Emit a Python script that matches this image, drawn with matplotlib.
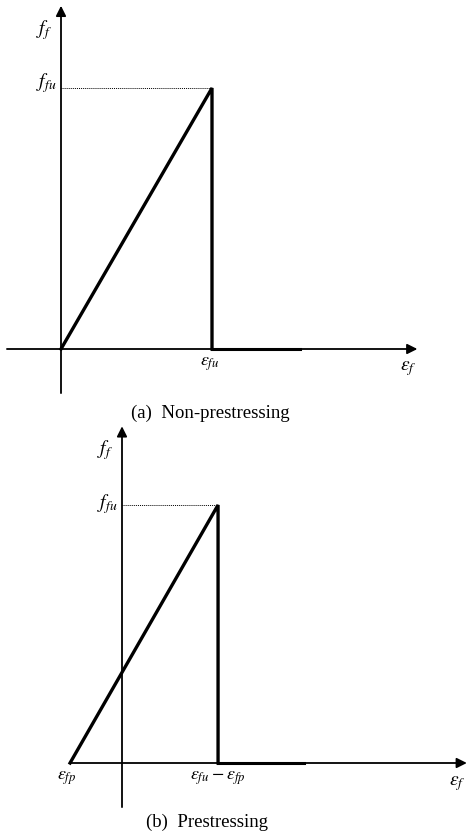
import matplotlib
matplotlib.use("Agg")
import matplotlib.pyplot as plt

plt.rcParams["mathtext.fontset"] = "stix"
plt.rcParams["font.family"] = ["Liberation Serif", "DejaVu Serif"]

# stress-strain of FRP tendon (normalised units)
eps_fu = 1.0          # ultimate strain
f_fu = 1.0            # ultimate stress
eps_fp = 0.351        # prestrain
rupture_tail = 0.583  # flat part drawn along the strain axis after rupture

W, H = 467, 835
fig = plt.figure(figsize=(W / 100, H / 100), dpi=100)


def panel(bottom_px, top_px, origin_px, sx, sy):
    """Axes spanning the full width between two pixel rows, with the data origin
    at origin_px and sx, sy pixels per unit."""
    ax = fig.add_axes([0, 1 - bottom_px / H, 1, (bottom_px - top_px) / H])
    ox, oy = origin_px
    ax.set_xlim(-ox / sx, (W - ox) / sx)
    ax.set_ylim(-(bottom_px - oy) / sy, (oy - top_px) / sy)
    ax.axis("off")
    return ax


def arrow(ax, start, tip):
    ax.annotate("", xy=tip, xytext=start,
                arrowprops=dict(arrowstyle="-|>", lw=1.3, color="black",
                                mutation_scale=15, shrinkA=0, shrinkB=0))


# ---------------- (a) non-prestressing ----------------
ax1 = panel(418, 0, (61, 349), 151, 261)
arrow(ax1, (-0.358, 0), (2.36, 0))
arrow(ax1, (0, -0.169), (0, 1.315))
ax1.plot([0, eps_fu, eps_fu], [0, f_fu, 0], color="black", lw=2.4,
         solid_joinstyle="miter")
ax1.plot([eps_fu, eps_fu + rupture_tail], [0, 0], color="black", lw=2.2)
ax1.plot([0, eps_fu], [f_fu, f_fu], color="black", lw=0.7, ls=(0, (1, 1)))
ax1.text(-0.06, 1.222, r"$f_f$", fontsize=14, ha="right", va="center")
ax1.text(-0.03, 1.02, r"$f_{fu}$", fontsize=14, ha="right", va="center")
ax1.text(eps_fu - 0.013, -0.06, r"$\varepsilon_{fu}$", fontsize=13,
         ha="center", va="center")
ax1.text(2.298, -0.075, r"$\varepsilon_f$", fontsize=14, ha="center",
         va="center")
fig.text(210 / W, 1 - 413 / H, "(a)  Non-prestressing", fontsize=13.5,
         ha="center", va="center")

# ---------------- (b) prestressing ----------------
ax2 = panel(835, 418, (122, 763), 148, 258)
arrow(ax2, (-eps_fp, 0), (2.33, 0))
arrow(ax2, (0, -0.171), (0, 1.305))
ax2.plot([-eps_fp, eps_fu - eps_fp, eps_fu - eps_fp], [0, f_fu, 0],
         color="black", lw=2.4, solid_joinstyle="miter")
ax2.plot([eps_fu - eps_fp, eps_fu - eps_fp + rupture_tail], [0, 0],
         color="black", lw=2.2)
ax2.plot([0, eps_fu - eps_fp], [f_fu, f_fu], color="black", lw=0.7,
         ls=(0, (1, 1)))
ax2.text(-0.06, 1.213, r"$f_f$", fontsize=14, ha="right", va="center")
ax2.text(-0.03, 1.005, r"$f_{fu}$", fontsize=14, ha="right", va="center")
ax2.text(-eps_fp - 0.02, -0.06, r"$\varepsilon_{fp}$", fontsize=13,
         ha="center", va="center")
ax2.text(eps_fu - eps_fp - 0.005, -0.06,
         r"$\varepsilon_{fu} - \varepsilon_{fp}$", fontsize=13,
         ha="center", va="center")
ax2.text(2.265, -0.08, r"$\varepsilon_f$", fontsize=14, ha="center",
         va="center")
fig.text(207 / W, 1 - 822 / H, "(b)  Prestressing", fontsize=13.5,
         ha="center", va="center")

fig.savefig("out.png", dpi=100)
